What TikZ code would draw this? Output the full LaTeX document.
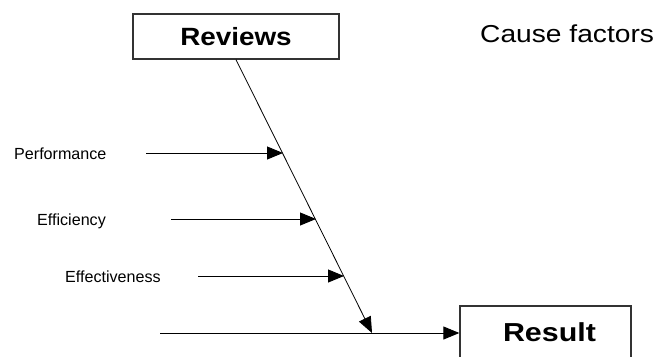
\documentclass[tikz,border=0pt]{standalone}
\usepackage{fontspec}
\setmainfont{Liberation Sans}
\usetikzlibrary{arrows.meta}
\begin{document}
\begin{tikzpicture}[x=1pt,y=-1pt,
  box/.style={draw=black!80,line width=1.3pt,fill=white,inner sep=0pt},
  lbl/.style={inner sep=0pt,font=\fontsize{16.1}{19}\selectfont},
  arr/.style={line width=0.9pt,-{Triangle[length=16pt,width=13pt]}},
  spine/.style={line width=0.8pt}]
\useasboundingbox (0,0) rectangle (663,356);
\node[box,minimum width=206pt,minimum height=45pt] (rev) at (236,36.5)
  {\scalebox{1.16}[1.04]{\fontsize{24}{28}\selectfont\bfseries Reviews}};
\node[box,minimum width=171pt,minimum height=54pt] (res) at (545.5,333)
  {\hspace{8pt}\raisebox{1pt}{\scalebox{1.17}[1]{\fontsize{26}{30}\selectfont\bfseries Result}}};
\node[anchor=base west,inner sep=0pt] (cause) at (480,42)
  {\scalebox{1.15}[1]{\fontsize{24.5}{28}\selectfont Cause factors}};
\node[lbl,anchor=base west] (perf) at (14,159.3) {Performance};
\node[lbl,anchor=base west] (effi) at (37,225) {Efficiency};
\node[lbl,anchor=base west] (effe) at (65,282) {Effectiveness};
\coordinate (p1) at (146,153);
\coordinate (p2) at (283,153);
\coordinate (e1) at (171,219);
\coordinate (e2) at (316,219);
\coordinate (f1) at (198,276);
\coordinate (f2) at (344,276);
\coordinate (m0) at (160,333);
\coordinate (j) at (372,333);
\draw[spine,-{Triangle[length=16pt,width=13pt]}] (rev.south) -- (j);
\draw[line width=0.9pt] (m0) -- (j);
\draw[arr] (j) -- (res.west);
\draw[arr] (p1) -- (p2);
\draw[arr] (e1) -- (e2);
\draw[arr] (f1) -- (f2);
\end{tikzpicture}
\end{document}
